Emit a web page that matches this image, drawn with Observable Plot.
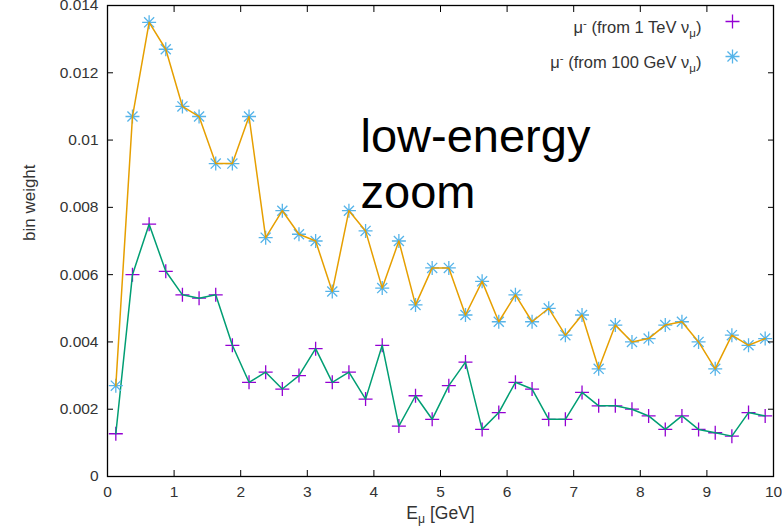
<!DOCTYPE html>
<html>
<head>
<meta charset="utf-8">
<script src="https://cdn.jsdelivr.net/npm/d3@7"></script>
<script src="https://cdn.jsdelivr.net/npm/@observablehq/plot@0.6"></script>
<style>
  html, body { margin: 0; padding: 0; background: #fff; }
</style>
</head>
<body>
<div id="chart"></div>
<script>
// ---- data ----
const energy = [0.125, 0.375, 0.625, 0.875, 1.125, 1.375, 1.625, 1.875, 2.125, 2.375,
                2.625, 2.875, 3.125, 3.375, 3.625, 3.875, 4.125, 4.375, 4.625, 4.875,
                5.125, 5.375, 5.625, 5.875, 6.125, 6.375, 6.625, 6.875, 7.125, 7.375,
                7.625, 7.875, 8.125, 8.375, 8.625, 8.875, 9.125, 9.375, 9.625, 9.875];
const weight1TeV = [0.00127, 0.0060, 0.0075, 0.0061, 0.0054, 0.0053, 0.0054, 0.0039, 0.0028, 0.0031,
                    0.0026, 0.0030, 0.0038, 0.0028, 0.0031, 0.0023, 0.0039, 0.0015, 0.0024, 0.0017,
                    0.0027, 0.0034, 0.0014, 0.0019, 0.0028, 0.0026, 0.0017, 0.0017, 0.0025, 0.0021,
                    0.0021, 0.0020, 0.0018, 0.0014, 0.0018, 0.0014, 0.0013, 0.0012, 0.0019, 0.0018];
const weight100GeV = [0.0027, 0.0107, 0.0135, 0.0127, 0.0110, 0.0107, 0.0093, 0.0093, 0.0107, 0.0071,
                      0.0079, 0.0072, 0.0070, 0.0055, 0.0079, 0.0073, 0.0056, 0.0070, 0.0051, 0.0062,
                      0.0062, 0.0048, 0.0058, 0.0046, 0.0054, 0.0046, 0.0050, 0.0042, 0.0048, 0.0032,
                      0.0045, 0.0040, 0.0041, 0.0045, 0.0046, 0.0040, 0.0032, 0.0042, 0.0039, 0.0041];
const xTicks = [0, 1, 2, 3, 4, 5, 6, 7, 8, 9, 10];
const xTickLabels = ["0", "1", "2", "3", "4", "5", "6", "7", "8", "9", "10"];
const yTicks = [0, 0.002, 0.004, 0.006, 0.008, 0.01, 0.012, 0.014];
const yTickLabels = ["0", "0.002", "0.004", "0.006", "0.008", "0.01", "0.012", "0.014"];
const seriesNames = ["μ- (from 1 TeV νμ)", "μ- (from 100 GeV νμ)"];
const seriesParts = [
  [["μ", ""], ["-", "sup"], [" (from 1 TeV ν", ""], ["μ", "sub"], [")", ""]],
  [["μ", ""], ["-", "sup"], [" (from 100 GeV ν", ""], ["μ", "sub"], [")", ""]]
];
const annotation = "low-energy\nzoom";
const xLabel = "Eμ [GeV]";
const xLabelParts = [["E", ""], ["μ", "sub"], [" [GeV]", ""]];
const yLabel = "bin weight";

// ---- tables ----
const rows1 = energy.map((e, i) => ({e, w: weight1TeV[i]}));
const rows100 = energy.map((e, i) => ({e, w: weight100GeV[i]}));

// gnuplot-like symbols
const plusSymbol = {draw(c, size) {
  const r = Math.sqrt(size / Math.PI);
  c.moveTo(-r, 0); c.lineTo(r, 0); c.moveTo(0, -r); c.lineTo(0, r);
}};
const starSymbol = {draw(c, size) {
  const r = Math.sqrt(size / Math.PI), q = r * 0.72;
  c.moveTo(-r, 0); c.lineTo(r, 0); c.moveTo(0, -r); c.lineTo(0, r);
  c.moveTo(-q, -q); c.lineTo(q, q); c.moveTo(-q, q); c.lineTo(q, -q);
}};

const purple = "#9400d3", green = "#009e73", cyan = "#56b4e9", orange = "#e69f00";
const fmtX = d => xTickLabels[xTicks.indexOf(d)];
const fmtY = d => yTickLabels[yTicks.indexOf(d)];

const plot = Plot.plot({
  width: 782, height: 529,
  marginLeft: 107, marginRight: 9, marginTop: 5, marginBottom: 53,
  style: {fontFamily: "'Liberation Sans', Arial, sans-serif", fontSize: "15px", color: "#333", background: "#fff"},
  x: {domain: [0, 10]},
  y: {domain: [0, 0.014]},
  marks: [
    Plot.dot(rows1, {x: "e", y: "w", symbol: plusSymbol, r: 7, stroke: purple, strokeWidth: 1.3}),
    Plot.line(rows1, {x: "e", y: "w", stroke: green, strokeWidth: 1.5}),
    Plot.dot(rows100, {x: "e", y: "w", symbol: starSymbol, r: 7, stroke: cyan, strokeWidth: 1.3}),
    Plot.line(rows100, {x: "e", y: "w", stroke: orange, strokeWidth: 1.5}),
    Plot.frame({stroke: "#000", strokeWidth: 1.3}),
    Plot.axisX({ticks: xTicks, tickSize: -6, tickFormat: fmtX, label: null, stroke: "#000", fontSize: 15.5}),
    Plot.axisX({anchor: "top", ticks: xTicks, tickSize: -6, tickFormat: () => "", label: null, stroke: "#000"}),
    Plot.axisY({ticks: yTicks, tickSize: -6, tickFormat: fmtY, label: null, stroke: "#000", fontSize: 15.5}),
    Plot.axisY({anchor: "right", ticks: yTicks, tickSize: -6, tickFormat: () => "", label: null, stroke: "#000"}),
    Plot.text([yLabel], {frameAnchor: "left", dx: -78, rotate: -90, fontSize: 17}),
    Plot.text([xLabel], {frameAnchor: "bottom", dy: 42, fontSize: 17.5}),
    Plot.text([seriesNames[0]], {frameAnchor: "top-right", dx: -72, dy: 16, textAnchor: "end", fontSize: 16.5}),
    Plot.text([seriesNames[1]], {frameAnchor: "top-right", dx: -72, dy: 51, textAnchor: "end", fontSize: 16.5}),
    Plot.dot([seriesNames[0]], {frameAnchor: "top-right", dx: -41, dy: 16, symbol: plusSymbol, r: 7, stroke: purple, strokeWidth: 1.3}),
    Plot.dot([seriesNames[1]], {frameAnchor: "top-right", dx: -41, dy: 51, symbol: starSymbol, r: 7, stroke: cyan, strokeWidth: 1.3}),
    Plot.text([annotation], {frameAnchor: "top-left", dx: 253, dy: 106, textAnchor: "start", lineAnchor: "top", fontSize: 47, lineHeight: 1.2, fill: "#000"})
  ]
});

function richText(svg, plain, parts) {
  d3.select(svg).selectAll("text").filter(function () { return this.textContent === plain; })
    .each(function () {
      const el = d3.select(this);
      el.text(null);
      let shift = 0;
      for (const [t, kind] of parts) {
        const target = kind === "sub" ? 4 : kind === "sup" ? -6 : 0;
        const ts = el.append("tspan").text(t).attr("dy", target - shift);
        if (kind) ts.attr("font-size", "70%");
        shift = target;
      }
    });
}
richText(plot, xLabel, xLabelParts);
richText(plot, seriesNames[0], seriesParts[0]);
richText(plot, seriesNames[1], seriesParts[1]);

document.getElementById("chart").append(plot);
</script>
</body>
</html>
